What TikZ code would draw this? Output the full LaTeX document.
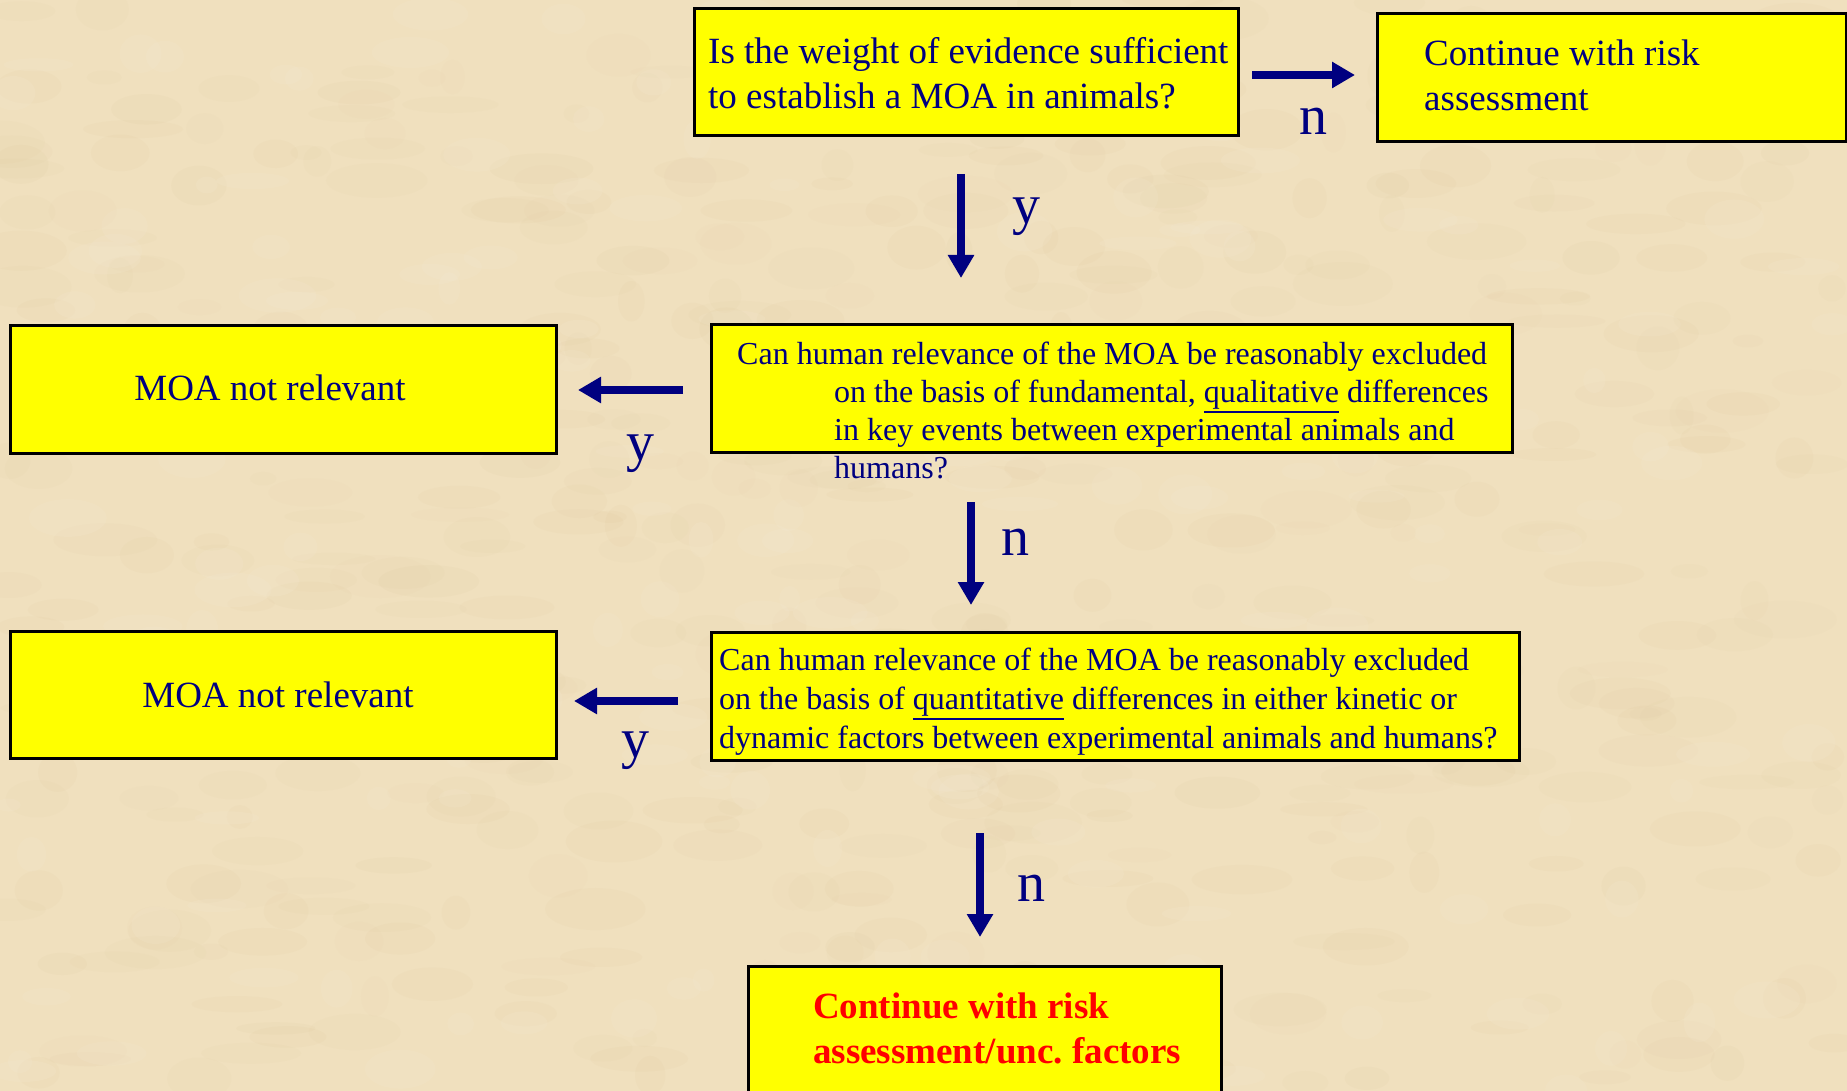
\documentclass[tikz,border=0pt]{standalone}
\usepackage{fontspec}
\setmainfont{Liberation Serif}
\frenchspacing
\newcommand\myul[1]{\leavevmode\setbox0\hbox{#1}\rlap{\rule[-10.5pt]{\wd0}{2.2pt}}\box0\relax}
\usetikzlibrary{arrows.meta}
\definecolor{bgc}{RGB}{240,224,190}
\definecolor{blobc}{RGB}{214,188,140}
\definecolor{navyc}{RGB}{0,0,128}
\definecolor{boxy}{RGB}{255,255,0}
\definecolor{redc}{RGB}{255,0,0}
\begin{document}
\begin{tikzpicture}[x=1pt,y=-1pt,
  qbox/.style={draw=black, line width=2.8pt, fill=boxy, inner sep=0pt, anchor=north west},
  bigtxt/.style={font=\fontsize{37}{45}\selectfont, text=navyc, inner sep=0pt, align=left, anchor=north west},
  smalltxt/.style={font=\fontsize{32}{38}\selectfont, text=navyc, inner sep=0pt, align=left, anchor=north west},
  redtxt/.style={font=\fontsize{37}{45}\selectfont\bfseries, text=redc, inner sep=0pt, align=left, anchor=north west},
  lbl/.style={font=\fontsize{56}{60}\selectfont, text=navyc, inner sep=0pt, anchor=base},
  arr/.style={draw=navyc, line width=8pt, -{Triangle[length=23pt,width=25pt]}}
]
\useasboundingbox (0,0) rectangle (1847,1091);
\fill[bgc] (0,0) rectangle (1847,1091);
% parchment mottling
\pgfmathsetseed{7}
\begin{scope}
\clip (0,0) rectangle (1847,1091);
\foreach \i in {1,...,500}{
  \pgfmathsetmacro{\bx}{rnd*1847}
  \pgfmathsetmacro{\by}{rnd*1091}
  \pgfmathsetmacro{\brx}{12+rnd*40}
  \pgfmathsetmacro{\bry}{6+rnd*16}
  \pgfmathsetmacro{\bop}{0.03+rnd*0.05}
  \fill[blobc, opacity=\bop] (\bx,\by) ellipse [x radius=\brx, y radius=\bry];
}
\foreach \i in {1,...,200}{
  \pgfmathsetmacro{\bx}{rnd*1847}
  \pgfmathsetmacro{\by}{rnd*1091}
  \pgfmathsetmacro{\brx}{10+rnd*30}
  \pgfmathsetmacro{\bry}{6+rnd*14}
  \fill[white, opacity=0.06] (\bx,\by) ellipse [x radius=\brx, y radius=\bry];
}
\end{scope}

% boxes
\node[qbox, minimum width=544pt, minimum height=127pt] (b1) at (693,7) {};
\node[qbox, minimum width=469pt, minimum height=128pt] (b2) at (1376,12) {};
\node[qbox, minimum width=546pt, minimum height=128pt] (b3) at (9,324) {};
\node[qbox, minimum width=801pt, minimum height=128pt] (b4) at (710,323) {};
\node[qbox, minimum width=546pt, minimum height=127pt] (b5) at (9,630) {};
\node[qbox, minimum width=808pt, minimum height=128pt] (b6) at (710,631) {};
\node[qbox, minimum width=473pt, minimum height=150pt] (b7) at (747,965) {};

% texts
\node[bigtxt] (t1) at (708,37) {Is the weight of evidence sufficient\\to establish a MOA in animals?};
\node[bigtxt] (t2) at (1424,40) {Continue with risk\\assessment};
\node[bigtxt, anchor=center] (t3) at (270,388) {MOA not relevant};
\node[smalltxt] (t4a) at (737,342) {Can human relevance of the MOA be reasonably excluded};
\node[smalltxt] (t4b) at (834,380) {on the basis of fundamental, \myul{qualitative} differences\\in key events between experimental animals and\\humans?};
\node[bigtxt, anchor=center] (t5) at (278,695) {MOA not relevant};
\node[smalltxt, font=\fontsize{32}{39}\selectfont] (t6) at (719,648) {Can human relevance of the MOA be reasonably excluded\\on the basis of \myul{quantitative} differences in either kinetic or\\dynamic factors between experimental animals and humans?};
\node[redtxt] (t7) at (813,993) {Continue with risk\\assessment/unc.\ factors};

% connector end points
\coordinate (a1s) at (1252,75);  \coordinate (a1e) at (1355,75);
\coordinate (a2s) at (961,174);  \coordinate (a2e) at (961,278);
\coordinate (a3s) at (683,390);  \coordinate (a3e) at (578,390);
\coordinate (a4s) at (971,502);  \coordinate (a4e) at (971,605);
\coordinate (a5s) at (678,701);  \coordinate (a5e) at (574,701);
\coordinate (a6s) at (980,833);  \coordinate (a6e) at (980,937);

\draw[arr] (a1s) -- (a1e);
\draw[arr] (a2s) -- (a2e);
\draw[arr] (a3s) -- (a3e);
\draw[arr] (a4s) -- (a4e);
\draw[arr] (a5s) -- (a5e);
\draw[arr] (a6s) -- (a6e);

% labels
\node[lbl] (l1) at (1313,135) {n};
\node[lbl] (l2) at (1026,224) {y};
\node[lbl] (l3) at (640,460) {y};
\node[lbl] (l4) at (1015,555) {n};
\node[lbl] (l5) at (635,757) {y};
\node[lbl] (l6) at (1031,901) {n};
\end{tikzpicture}
\end{document}
